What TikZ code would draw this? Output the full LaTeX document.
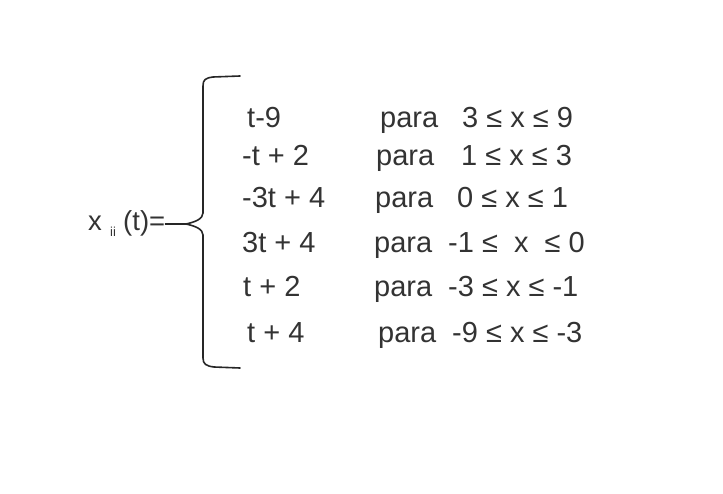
\documentclass[tikz,border=0pt]{standalone}
\usepackage{fontspec}
\setmainfont{Liberation Sans}
\definecolor{txt}{HTML}{333333}
\begin{document}
\begin{tikzpicture}[x=1pt,y=-1pt,
  row/.style={anchor=base west,inner sep=0pt,text=txt,font=\fontsize{29}{31}\selectfont},
  lbl/.style={anchor=base west,inner sep=0pt,text=txt,font=\fontsize{27.5}{29}\selectfont},
  sub/.style={anchor=base west,inner sep=0pt,text=txt,font=\fontsize{13}{14}\selectfont},
  brace/.style={line width=1.6pt,draw=black!85,line cap=round,line join=round}]
\useasboundingbox (0,0) rectangle (723,494);
% label
\node[lbl] (lx) at (88,231) {x};
\node[sub] (lii) at (110,237) {ii};
\node[lbl] (lt) at (123,231) {(t)=};
% brace
\coordinate (btop) at (240,76);
\coordinate (bbot) at (240,368);
\coordinate (tip) at (186,224);
\draw[brace] (lt.base east) ++(0,-7) coordinate (eqend) -- (tip);
\draw[brace] (btop) -- (213,77) .. controls (205,78) and (203,80) .. (203,86)
  -- (203,213) .. controls (203,219) and (195,222) .. (tip)
  .. controls (195,226) and (203,229) .. (203,235)
  -- (203,358) .. controls (203,364) and (206,366) .. (214,367) -- (bbot);
% rows
\node[row] (a1) at (247,128) {t-9};
\node[row] (p1) at (380,128) {para};
\node[row] (r1) at (462,128) {3 ≤ x ≤ 9};
\node[row] (a2) at (242,166) {-t + 2};
\node[row] (p2) at (376,166) {para};
\node[row] (r2) at (461,166) {1 ≤ x ≤ 3};
\node[row] (a3) at (242,208) {-3t + 4};
\node[row] (p3) at (375,208) {para};
\node[row] (r3) at (457,208) {0 ≤ x ≤ 1};
\node[row] (a4) at (242,253) {3t + 4};
\node[row] (p4) at (374,253) {para};
\node[row] (r4) at (448,253) {-1 ≤\ \ x\ \ ≤ 0};
\node[row] (a5) at (243,297) {t + 2};
\node[row] (p5) at (374,297) {para};
\node[row] (r5) at (448,297) {-3 ≤ x ≤ -1};
\node[row] (a6) at (247,343) {t + 4};
\node[row] (p6) at (378,343) {para};
\node[row] (r6) at (452,343) {-9 ≤ x ≤ -3};
\end{tikzpicture}
\end{document}
